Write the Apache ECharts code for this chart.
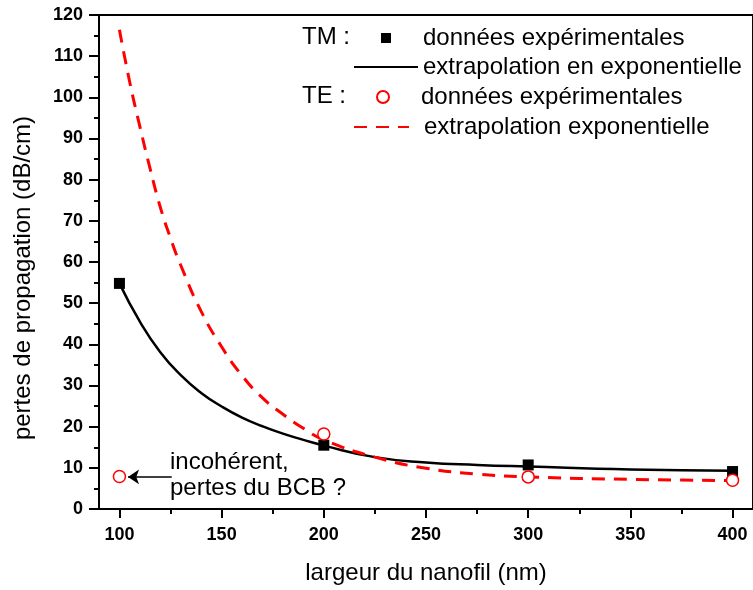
<!DOCTYPE html>
<html>
<head>
<meta charset="utf-8">
<title>pertes de propagation</title>
<script src="https://cdn.jsdelivr.net/npm/echarts@6/dist/echarts.min.js"></script>
<style>
  html, body { margin: 0; padding: 0; background: #fff; }
  #chart { width: 753px; height: 590px; }
</style>
</head>
<body>
<div id="chart"></div>
<script>
// axe x : largeur du nanofil (nm)
const xTicks = [100, 150, 200, 250, 300, 350, 400];
const xMinorTicks = [125, 175, 225, 275, 325, 375];

// TM : données expérimentales
const tmWidth = [100, 200, 300, 400];
const tmLoss = [54.8, 15.5, 10.7, 9.1];

// TE : données expérimentales
const teWidth = [100, 200, 300, 400];
const teLoss = [7.9, 18.2, 7.8, 7.0];

// courbes d'ajustement
const tmFitWidth = [100, 110, 120, 130, 140, 150, 160, 170, 180, 190, 200, 225, 250, 275, 300, 350, 400];
const tmFitLoss = [54.8, 45.5, 38.1, 32.5, 28.2, 24.9, 22.2, 20.1, 18.3, 16.8, 15.4, 12.6, 11.3, 10.7, 10.3, 9.6, 9.3];

const teFitWidth = [100, 105, 110, 115, 120, 125, 130, 140, 150, 160, 170, 180, 190, 200, 225, 250, 275, 300, 350, 400];
const teFitLoss = [116.4, 103.8, 92.9, 82.7, 73.3, 65.8, 59.2, 48.0, 39.4, 32.4, 27.0, 23.0, 19.6, 16.8, 12.6, 9.9, 8.5, 7.8, 7.2, 6.9];

// flèche "incohérent"
const arrowFrom = [125.6, 7.8];
const arrowTo = [104.2, 7.8];

const legendLabels = {
  'TM données': 'données expérimentales',
  'TM ajustement': 'extrapolation en exponentielle',
  'TE données': 'données expérimentales',
  'TE ajustement': 'extrapolation exponentielle'
};

const font = "'Liberation Sans', Arial, sans-serif";
const pairs = (xs, ys) => xs.map((x, i) => [x, ys[i]]);

let myChart = echarts.init(document.getElementById('chart'));

let legendBase = {
  orient: 'vertical',
  padding: 0,
  selectedMode: false,
  formatter: name => legendLabels[name],
  textStyle: { fontFamily: font, fontSize: 24, color: '#000' }
};

let option = {
  animation: false,
  grid: {
    left: 99, top: 15, width: 656, height: 495,
    show: true, borderColor: '#000', borderWidth: 2, backgroundColor: 'transparent'
  },
  legend: [
    Object.assign({}, legendBase, {
      data: ['TM données'], left: 381, top: 26, itemWidth: 10, itemHeight: 10,
      textStyle: Object.assign({}, legendBase.textStyle, { padding: [0, 0, 0, 27] })
    }),
    Object.assign({}, legendBase, {
      data: ['TM ajustement'], left: 353, top: 55, itemWidth: 64, itemHeight: 14,
      itemStyle: { opacity: 0 }
    }),
    Object.assign({}, legendBase, {
      data: ['TE données'], left: 376, top: 85, itemWidth: 12, itemHeight: 12,
      textStyle: Object.assign({}, legendBase.textStyle, { padding: [0, 0, 0, 27] })
    }),
    Object.assign({}, legendBase, {
      data: ['TE ajustement'], left: 353, top: 115, itemWidth: 55, itemHeight: 14,
      itemStyle: { opacity: 0 },
      textStyle: Object.assign({}, legendBase.textStyle, { padding: [0, 0, 0, 10] })
    })
  ],
  graphic: [
    { type: 'text', left: 302, top: 25, style: { text: 'TM :', font: '24px ' + font, fill: '#000' } },
    { type: 'text', left: 302, top: 84, style: { text: 'TE :', font: '24px ' + font, fill: '#000' } },
    {
      type: 'text', left: 170, top: 449,
      style: { text: 'incohérent,\npertes du BCB ?', font: '24px ' + font, lineHeight: 26, fill: '#000' }
    }
  ],
  xAxis: [
    {
      type: 'value', min: 90, max: 410,
      name: 'largeur du nanofil (nm)', nameLocation: 'middle', nameGap: 52,
      nameTextStyle: { fontFamily: font, fontSize: 24, color: '#000' },
      axisLine: { onZero: false, lineStyle: { color: '#000', width: 2 } },
      axisTick: { customValues: xTicks, length: 9, lineStyle: { color: '#000', width: 2 } },
      axisLabel: {
        customValues: xTicks, margin: 17,
        fontFamily: font, fontSize: 18, fontWeight: 'bold', color: '#000'
      },
      splitLine: { show: false }
    },
    {
      // graduations secondaires
      type: 'value', min: 90, max: 410, position: 'bottom',
      axisLine: { show: false },
      axisTick: { customValues: xMinorTicks, length: 5, lineStyle: { color: '#000', width: 2 } },
      axisLabel: { show: false },
      splitLine: { show: false }
    }
  ],
  yAxis: {
    type: 'value', min: 0, max: 120, interval: 10,
    name: 'pertes de propagation (dB/cm)', nameLocation: 'middle', nameGap: 64,
    nameTextStyle: { fontFamily: font, fontSize: 24, color: '#000', padding: [0, 32, 0, 0] },
    axisLine: { onZero: false, lineStyle: { color: '#000', width: 2 } },
    axisTick: { length: 10, lineStyle: { color: '#000', width: 2 } },
    minorTick: { show: true, splitNumber: 2, length: 5, lineStyle: { color: '#000', width: 2 } },
    axisLabel: { margin: 16, fontFamily: font, fontSize: 18, fontWeight: 'bold', color: '#000' },
    splitLine: { show: false }
  },
  series: [
    {
      name: 'TM ajustement', type: 'line', smooth: true,
      symbol: 'none', z: 2,
      lineStyle: { color: '#000', width: 2.5 },
      itemStyle: { color: '#000' },
      data: pairs(tmFitWidth, tmFitLoss)
    },
    {
      name: 'TE ajustement', type: 'line', smooth: true,
      symbol: 'none', z: 2,
      lineStyle: { color: '#ff0000', width: 3, type: [13, 9] },
      itemStyle: { color: '#ff0000' },
      data: pairs(teFitWidth, teFitLoss)
    },
    {
      name: 'TM données', type: 'scatter', symbol: 'rect', symbolSize: 11, z: 3,
      itemStyle: { color: '#000', opacity: 1 },
      data: pairs(tmWidth, tmLoss)
    },
    {
      name: 'TE données', type: 'scatter', symbol: 'circle', symbolSize: 12, z: 4,
      itemStyle: { color: '#fff', borderColor: '#ff0000', borderWidth: 1.5, opacity: 1 },
      data: pairs(teWidth, teLoss),
      markLine: {
        silent: true, animation: false,
        symbol: ['none', 'arrow'], symbolSize: 11,
        label: { show: false },
        lineStyle: { color: '#000', width: 1.5, type: 'solid' },
        data: [[{ coord: arrowFrom }, { coord: arrowTo }]]
      }
    }
  ]
};

myChart.setOption(option);
</script>
</body>
</html>
